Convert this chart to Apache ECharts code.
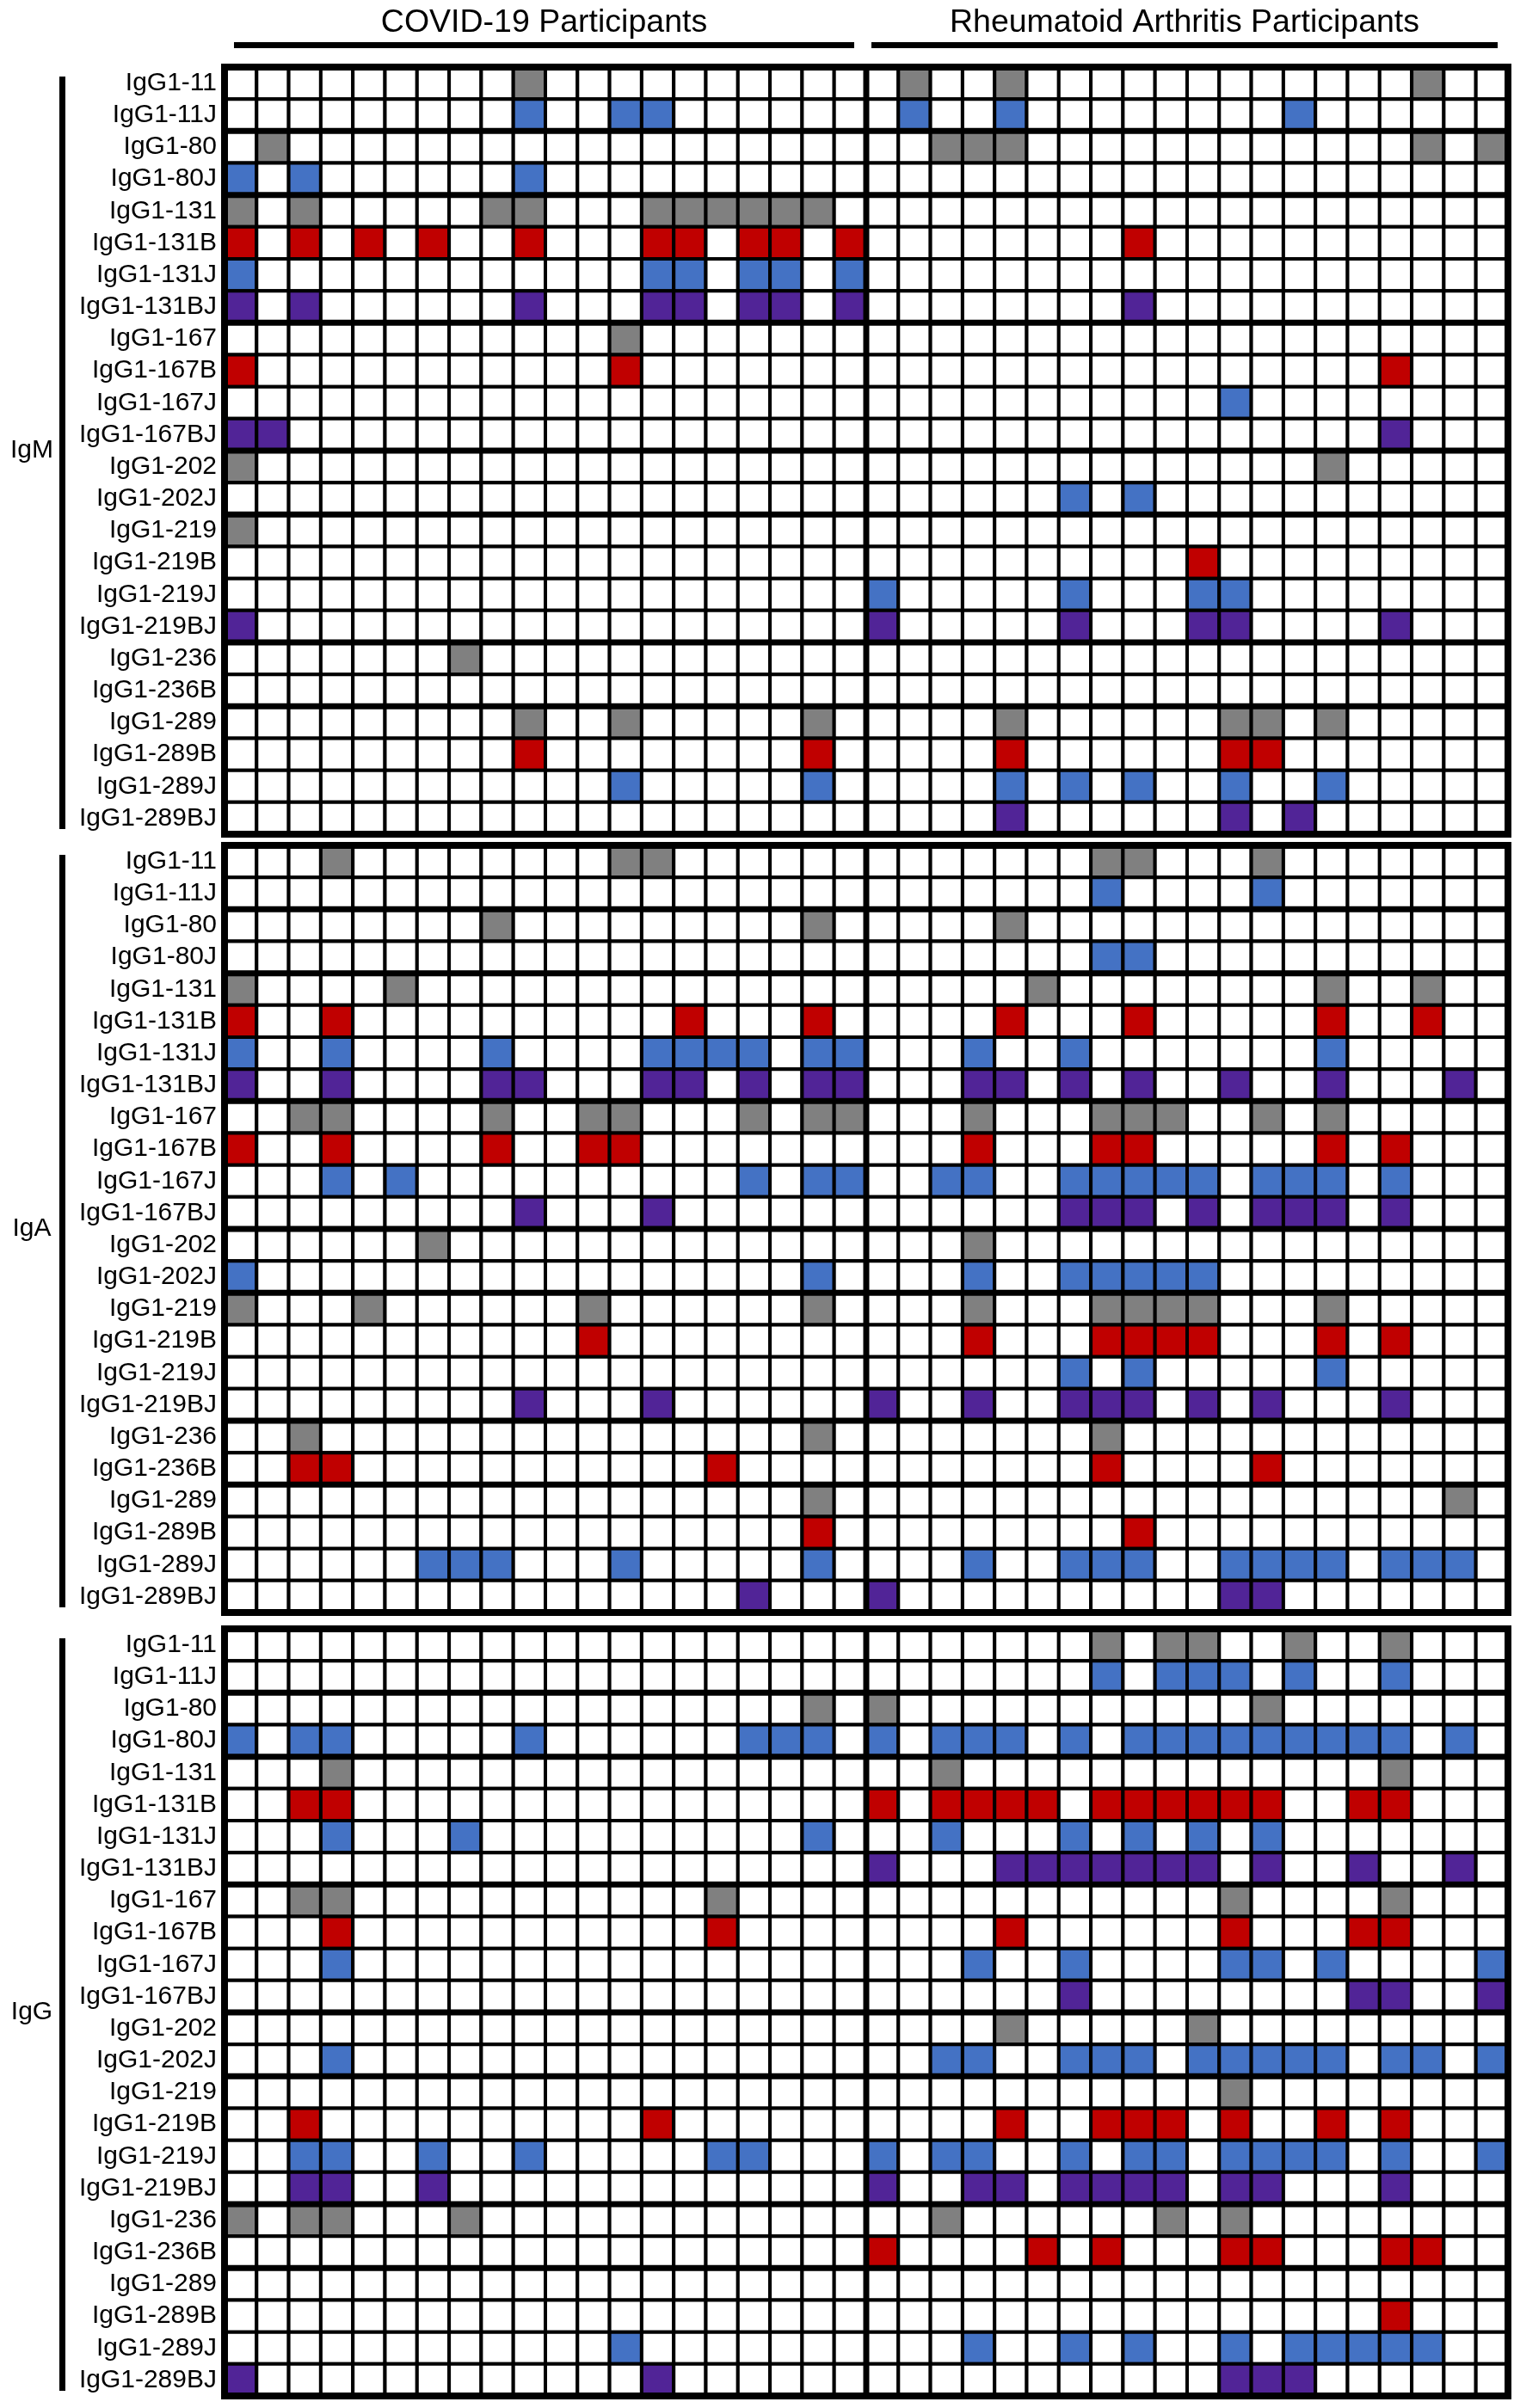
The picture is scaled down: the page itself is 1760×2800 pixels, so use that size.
<!DOCTYPE html>
<html>
<head>
<meta charset="utf-8">
<title>IgG1 reactivity by participant</title>
<script src="https://cdn.jsdelivr.net/npm/echarts@6/dist/echarts.min.js"></script>
<style>
  html, body { margin: 0; padding: 0; background: #fff; }
  #chart { width: 1760px; height: 2800px; }
</style>
</head>
<body>
<div id="chart"></div>
<script>
// rows of every panel (same order in IgM, IgA, IgG)
var rowNames = ['IgG1-11', 'IgG1-11J', 'IgG1-80', 'IgG1-80J',
    'IgG1-131', 'IgG1-131B', 'IgG1-131J', 'IgG1-131BJ',
    'IgG1-167', 'IgG1-167B', 'IgG1-167J', 'IgG1-167BJ',
    'IgG1-202', 'IgG1-202J',
    'IgG1-219', 'IgG1-219B', 'IgG1-219J', 'IgG1-219BJ',
    'IgG1-236', 'IgG1-236B',
    'IgG1-289', 'IgG1-289B', 'IgG1-289J', 'IgG1-289BJ'];
// thick lines between the antibody groups (row index where a new group starts)
var groupBreaks = [2, 4, 8, 12, 14, 18, 20];

var covidLabels = ['C1', 'C2', 'C3', 'C4', 'C5', 'C6', 'C7', 'C8', 'C9', 'C10',
    'C11', 'C12', 'C13', 'C14', 'C15', 'C16', 'C17', 'C18', 'C19', 'C20'];
var raLabels = ['R1', 'R2', 'R3', 'R4', 'R5', 'R6', 'R7', 'R8', 'R9', 'R10',
    'R11', 'R12', 'R13', 'R14', 'R15', 'R16', 'R17', 'R18', 'R19', 'R20'];

var panelNames = ['IgM', 'IgA', 'IgG'];

// positive participants per row (column index inside each cohort)
var igmCovid = [[9], [9, 12, 13], [1], [0, 2, 9],
    [0, 2, 8, 9, 13, 14, 15, 16, 17, 18], [0, 2, 4, 6, 9, 13, 14, 16, 17, 19], [0, 13, 14, 16, 17, 19], [0, 2, 9, 13, 14, 16, 17, 19],
    [12], [0, 12], [], [0, 1],
    [0], [],
    [0], [], [], [0],
    [7], [],
    [9, 12, 18], [9, 18], [12, 18], []];
var igmRA = [[1, 4, 17], [1, 4, 13], [2, 3, 4, 17, 19], [],
    [], [8], [], [8],
    [], [16], [11], [16],
    [14], [6, 8],
    [], [10], [0, 6, 10, 11], [0, 6, 10, 11, 16],
    [], [],
    [4, 11, 12, 14], [4, 11, 12], [4, 6, 8, 11, 14], [4, 11, 13]];

var igaCovid = [[3, 12, 13], [], [8, 18], [],
    [0, 5], [0, 3, 14, 18], [0, 3, 8, 13, 14, 15, 16, 18, 19], [0, 3, 8, 9, 13, 14, 16, 18, 19],
    [2, 3, 8, 11, 12, 16, 18, 19], [0, 3, 8, 11, 12], [3, 5, 16, 18, 19], [9, 13],
    [6], [0, 18],
    [0, 4, 11, 18], [11], [], [9, 13],
    [2, 18], [2, 3, 15],
    [18], [18], [6, 7, 8, 12, 18], [16]];
var igaRA = [[7, 8, 12], [7, 12], [4], [7, 8],
    [5, 14, 17], [4, 8, 14, 17], [3, 6, 14], [3, 4, 6, 8, 11, 14, 18],
    [3, 7, 8, 9, 12, 14], [3, 7, 8, 14, 16], [2, 3, 6, 7, 8, 9, 10, 12, 13, 14, 16], [6, 7, 8, 10, 12, 13, 14, 16],
    [3], [3, 6, 7, 8, 9, 10],
    [3, 7, 8, 9, 10, 14], [3, 7, 8, 9, 10, 14, 16], [6, 8, 14], [0, 3, 6, 7, 8, 10, 12, 16],
    [7], [7, 12],
    [18], [8], [3, 6, 7, 8, 11, 12, 13, 14, 16, 17, 18], [0, 11, 12]];

var iggCovid = [[], [], [18], [0, 2, 3, 9, 16, 17, 18],
    [3], [2, 3], [3, 7, 18], [],
    [2, 3, 15], [3, 15], [3], [],
    [], [3],
    [], [2, 13], [2, 3, 6, 9, 15, 16], [2, 3, 6],
    [0, 2, 3, 7], [],
    [], [], [12], [0, 13]];
var iggRA = [[7, 9, 10, 13, 16], [7, 9, 10, 11, 13, 16], [0, 12], [0, 2, 3, 4, 6, 8, 9, 10, 11, 12, 13, 14, 15, 16, 18],
    [2, 16], [0, 2, 3, 4, 5, 7, 8, 9, 10, 11, 12, 15, 16], [2, 6, 8, 10, 12], [0, 4, 5, 6, 7, 8, 9, 10, 12, 15, 18],
    [11, 16], [4, 11, 15, 16], [3, 6, 11, 12, 14, 19], [6, 15, 16, 19],
    [4, 10], [2, 3, 6, 7, 8, 10, 11, 12, 13, 14, 16, 17, 19],
    [11], [4, 7, 8, 9, 11, 14, 16], [0, 2, 3, 6, 8, 9, 11, 12, 13, 14, 16, 19], [0, 3, 4, 6, 7, 8, 9, 11, 12, 16],
    [2, 9, 11], [0, 5, 7, 11, 12, 16, 17],
    [], [16], [3, 6, 8, 11, 13, 14, 15, 16, 17], [11, 12, 13]];

var panelData = [[igmCovid, igmRA], [igaCovid, igaRA], [iggCovid, iggRA]];

// layout
var FONT = '"Liberation Sans", Arial, sans-serif';
var gridLeft = 261, gridWidth = 1492, gridHeight = 892;
var panelTops = [78, 983, 1894];

function rowColor(name) {
    if (/BJ$/.test(name)) return '#512497';
    if (/J$/.test(name)) return '#4472C4';
    if (/B$/.test(name)) return '#C00000';
    return '#808080';
}

var columns = covidLabels.concat(raLabels);

function cellData(covid, ra) {
    var out = [];
    for (var r = 0; r < rowNames.length; r++) {
        for (var c = 0; c < columns.length; c++) {
            var on = c < covidLabels.length
                ? covid[r].indexOf(c) >= 0
                : ra[r].indexOf(c - covidLabels.length) >= 0;
            out.push([c, r, on ? 1 : 0]);
        }
    }
    return out;
}

function renderCell(params, api) {
    var r = api.value(1);
    var p = api.coord([api.value(0), r]);
    var s = api.size([1, 1]);
    return {
        type: 'rect',
        shape: { x: p[0] - s[0] / 2, y: p[1] - s[1] / 2, width: s[0], height: s[1] },
        style: { fill: api.value(2) ? rowColor(rowNames[r]) : '#fff', stroke: '#000', lineWidth: 4 }
    };
}

// thick lines: [x, y, direction(0 = horizontal, 1 = vertical), boundary, width]
function lineData() {
    var out = [[0, 0, 0, 0, 8], [0, 0, 0, rowNames.length, 8],
        [0, 0, 1, 0, 8], [0, 0, 1, covidLabels.length, 7], [0, 0, 1, columns.length, 8]];
    groupBreaks.forEach(function (b) { out.push([0, 0, 0, b, 7]); });
    return out;
}

function renderLine(params, api) {
    var s = api.size([1, 1]);
    var lastC = columns.length - 1, lastR = rowNames.length - 1;
    var first = api.coord([0, 0]);
    var last = api.coord([lastC, lastR]);
    var x0 = first[0] - s[0] / 2, y0 = first[1] - s[1] / 2;
    var x1 = last[0] + s[0] / 2, y1 = last[1] + s[1] / 2;
    var b = api.value(3), shape;
    if (api.value(2) === 0) {
        var y = b <= lastR ? api.coord([0, b])[1] - s[1] / 2 : y1;
        shape = { x1: x0, y1: y, x2: x1, y2: y };
    } else {
        var x = b <= lastC ? api.coord([b, 0])[0] - s[0] / 2 : x1;
        shape = { x1: x, y1: y0, x2: x, y2: y1 };
    }
    return {
        type: 'line',
        shape: shape,
        style: { stroke: '#000', lineWidth: api.value(4), lineCap: 'square' }
    };
}

var grids = [], xAxes = [], yAxes = [], series = [], graphics = [];

panelNames.forEach(function (name, i) {
    grids.push({ left: gridLeft, top: panelTops[i], width: gridWidth, height: gridHeight });
    xAxes.push({ type: 'category', gridIndex: i, data: columns, show: false });
    yAxes.push({
        type: 'category', gridIndex: i, data: rowNames, inverse: true,
        axisLine: { show: false }, axisTick: { show: false }, splitLine: { show: false },
        axisLabel: { fontSize: 30, color: '#000', fontFamily: FONT, margin: 9, interval: 0 }
    });
    series.push({
        type: 'custom', name: name, xAxisIndex: i, yAxisIndex: i, z: 2,
        renderItem: renderCell, data: cellData(panelData[i][0], panelData[i][1])
    });
    series.push({
        type: 'custom', name: name + ' lines', xAxisIndex: i, yAxisIndex: i, z: 3,
        renderItem: renderLine, data: lineData(), silent: true
    });
    // bracket and isotype name on the left
    graphics.push({
        type: 'line',
        shape: { x1: 72.5, y1: panelTops[i] + 11, x2: 72.5, y2: panelTops[i] + gridHeight - 6 },
        style: { stroke: '#000', lineWidth: 7 }
    });
    graphics.push({
        type: 'text', x: 37, y: panelTops[i] + gridHeight / 2,
        style: { text: name, font: '30px ' + FONT, fill: '#000', textAlign: 'center', textVerticalAlign: 'middle' }
    });
});

// cohort headers with underlines
var headers = [
    { text: 'COVID-19 Participants', x1: 272, x2: 993 },
    { text: 'Rheumatoid Arthritis Participants', x1: 1013, x2: 1741 }
];
headers.forEach(function (h) {
    graphics.push({
        type: 'text', x: (h.x1 + h.x2) / 2, y: 27,
        style: { text: h.text, font: '37.5px ' + FONT, fill: '#000', textAlign: 'center', textVerticalAlign: 'middle' }
    });
    graphics.push({
        type: 'line', shape: { x1: h.x1, y1: 52.5, x2: h.x2, y2: 52.5 },
        style: { stroke: '#000', lineWidth: 7 }
    });
});

var myChart = echarts.init(document.getElementById('chart'), null, { renderer: 'canvas' });
myChart.setOption({
    animation: false,
    backgroundColor: '#fff',
    grid: grids,
    xAxis: xAxes,
    yAxis: yAxes,
    series: series,
    graphic: graphics
});
</script>
</body>
</html>
